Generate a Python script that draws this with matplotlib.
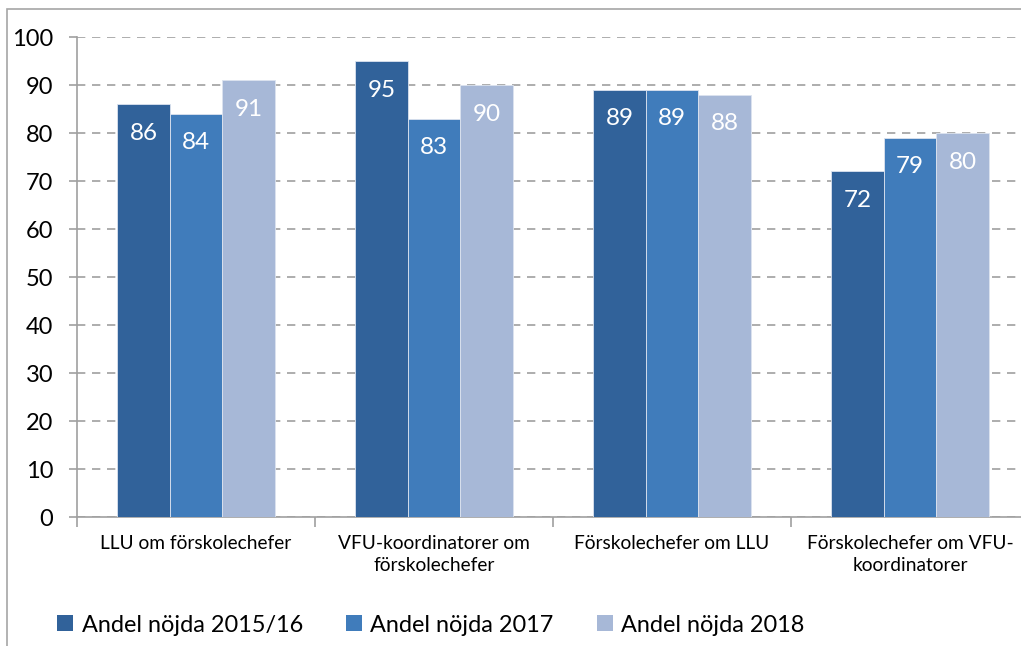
import matplotlib
matplotlib.use("Agg")
import matplotlib.pyplot as plt
from matplotlib.patches import Patch, Rectangle
import numpy as np

plt.rcParams['font.family'] = ['Lato', 'DejaVu Sans']

categories = ["LLU om förskolechefer", "VFU-koordinatorer om\nförskolechefer",
              "Förskolechefer om LLU", "Förskolechefer om VFU-\nkoordinatorer"]
series_names = ["Andel nöjda 2015/16", "Andel nöjda 2017", "Andel nöjda 2018"]
v2015 = [86, 95, 89, 72]
v2017 = [84, 83, 89, 79]
v2018 = [91, 90, 88, 80]
values = [v2015, v2017, v2018]
colors = ["#31629A", "#407CBB", "#A7B8D7"]
yticks = list(range(0, 101, 10))

W, H = 1021, 646
fig = plt.figure(figsize=(W/100, H/100), dpi=100)
# outer frame
fig.patches.append(Rectangle((7/W, -0.1), 1.2, 1 - 9/H + 0.1, transform=fig.transFigure,
                             fill=False, edgecolor="#A6A6A6", linewidth=1.2))

ax = fig.add_axes([77/W, 1 - 517/H, (1029 - 77)/W, (517 - 37)/H])
n = len(categories)
x = np.arange(n)
bw = 0.221
for i, (vals, c) in enumerate(zip(values, colors)):
    pos = x + (i - 1) * bw
    bars = ax.bar(pos, vals, width=bw, color=c, edgecolor="#DCE3EF", linewidth=0.6, zorder=3)
    for p, v in zip(pos, vals):
        ax.annotate(str(v), (p, v), xytext=(0, -21), textcoords="offset points",
                    ha="center", va="center", color="white", fontsize=17.5, zorder=4)

ax.set_xlim(-0.5, n - 0.5)
ax.set_ylim(0, 100)
ax.set_yticks(yticks)
ax.tick_params(axis='y', labelsize=17, length=6, color="#A0A0A0", width=1.2, pad=11)
ax.yaxis.grid(True, linestyle=(0, (5, 4)), color="#A0A0A0", linewidth=1.2, zorder=0)
ax.set_xticks(np.arange(n + 1) - 0.5, minor=False)
ax.set_xticklabels([])
ax.tick_params(axis='x', which='major', length=7, color="#A0A0A0", width=1.2)
ax.set_xticks(x, minor=True)
ax.set_xticklabels(categories, minor=True, fontsize=13.8, linespacing=1.38)
ax.tick_params(axis='x', which='minor', length=0, pad=13)
for s in ["top", "right"]:
    ax.spines[s].set_visible(False)
for s in ["left", "bottom"]:
    ax.spines[s].set_color("#A0A0A0")
    ax.spines[s].set_linewidth(1.2)
ax.set_axisbelow(True)

handles = [Patch(facecolor=c, edgecolor="none") for c in colors]
fig.legend(handles, series_names, loc="center left", bbox_to_anchor=(48/W, 1 - 625/H),
           ncol=3, frameon=False, fontsize=16.9, handlelength=0.68, handleheight=0.68,
           handletextpad=0.35, columnspacing=1.85, borderaxespad=0)

fig.savefig("out.png", dpi=100)
